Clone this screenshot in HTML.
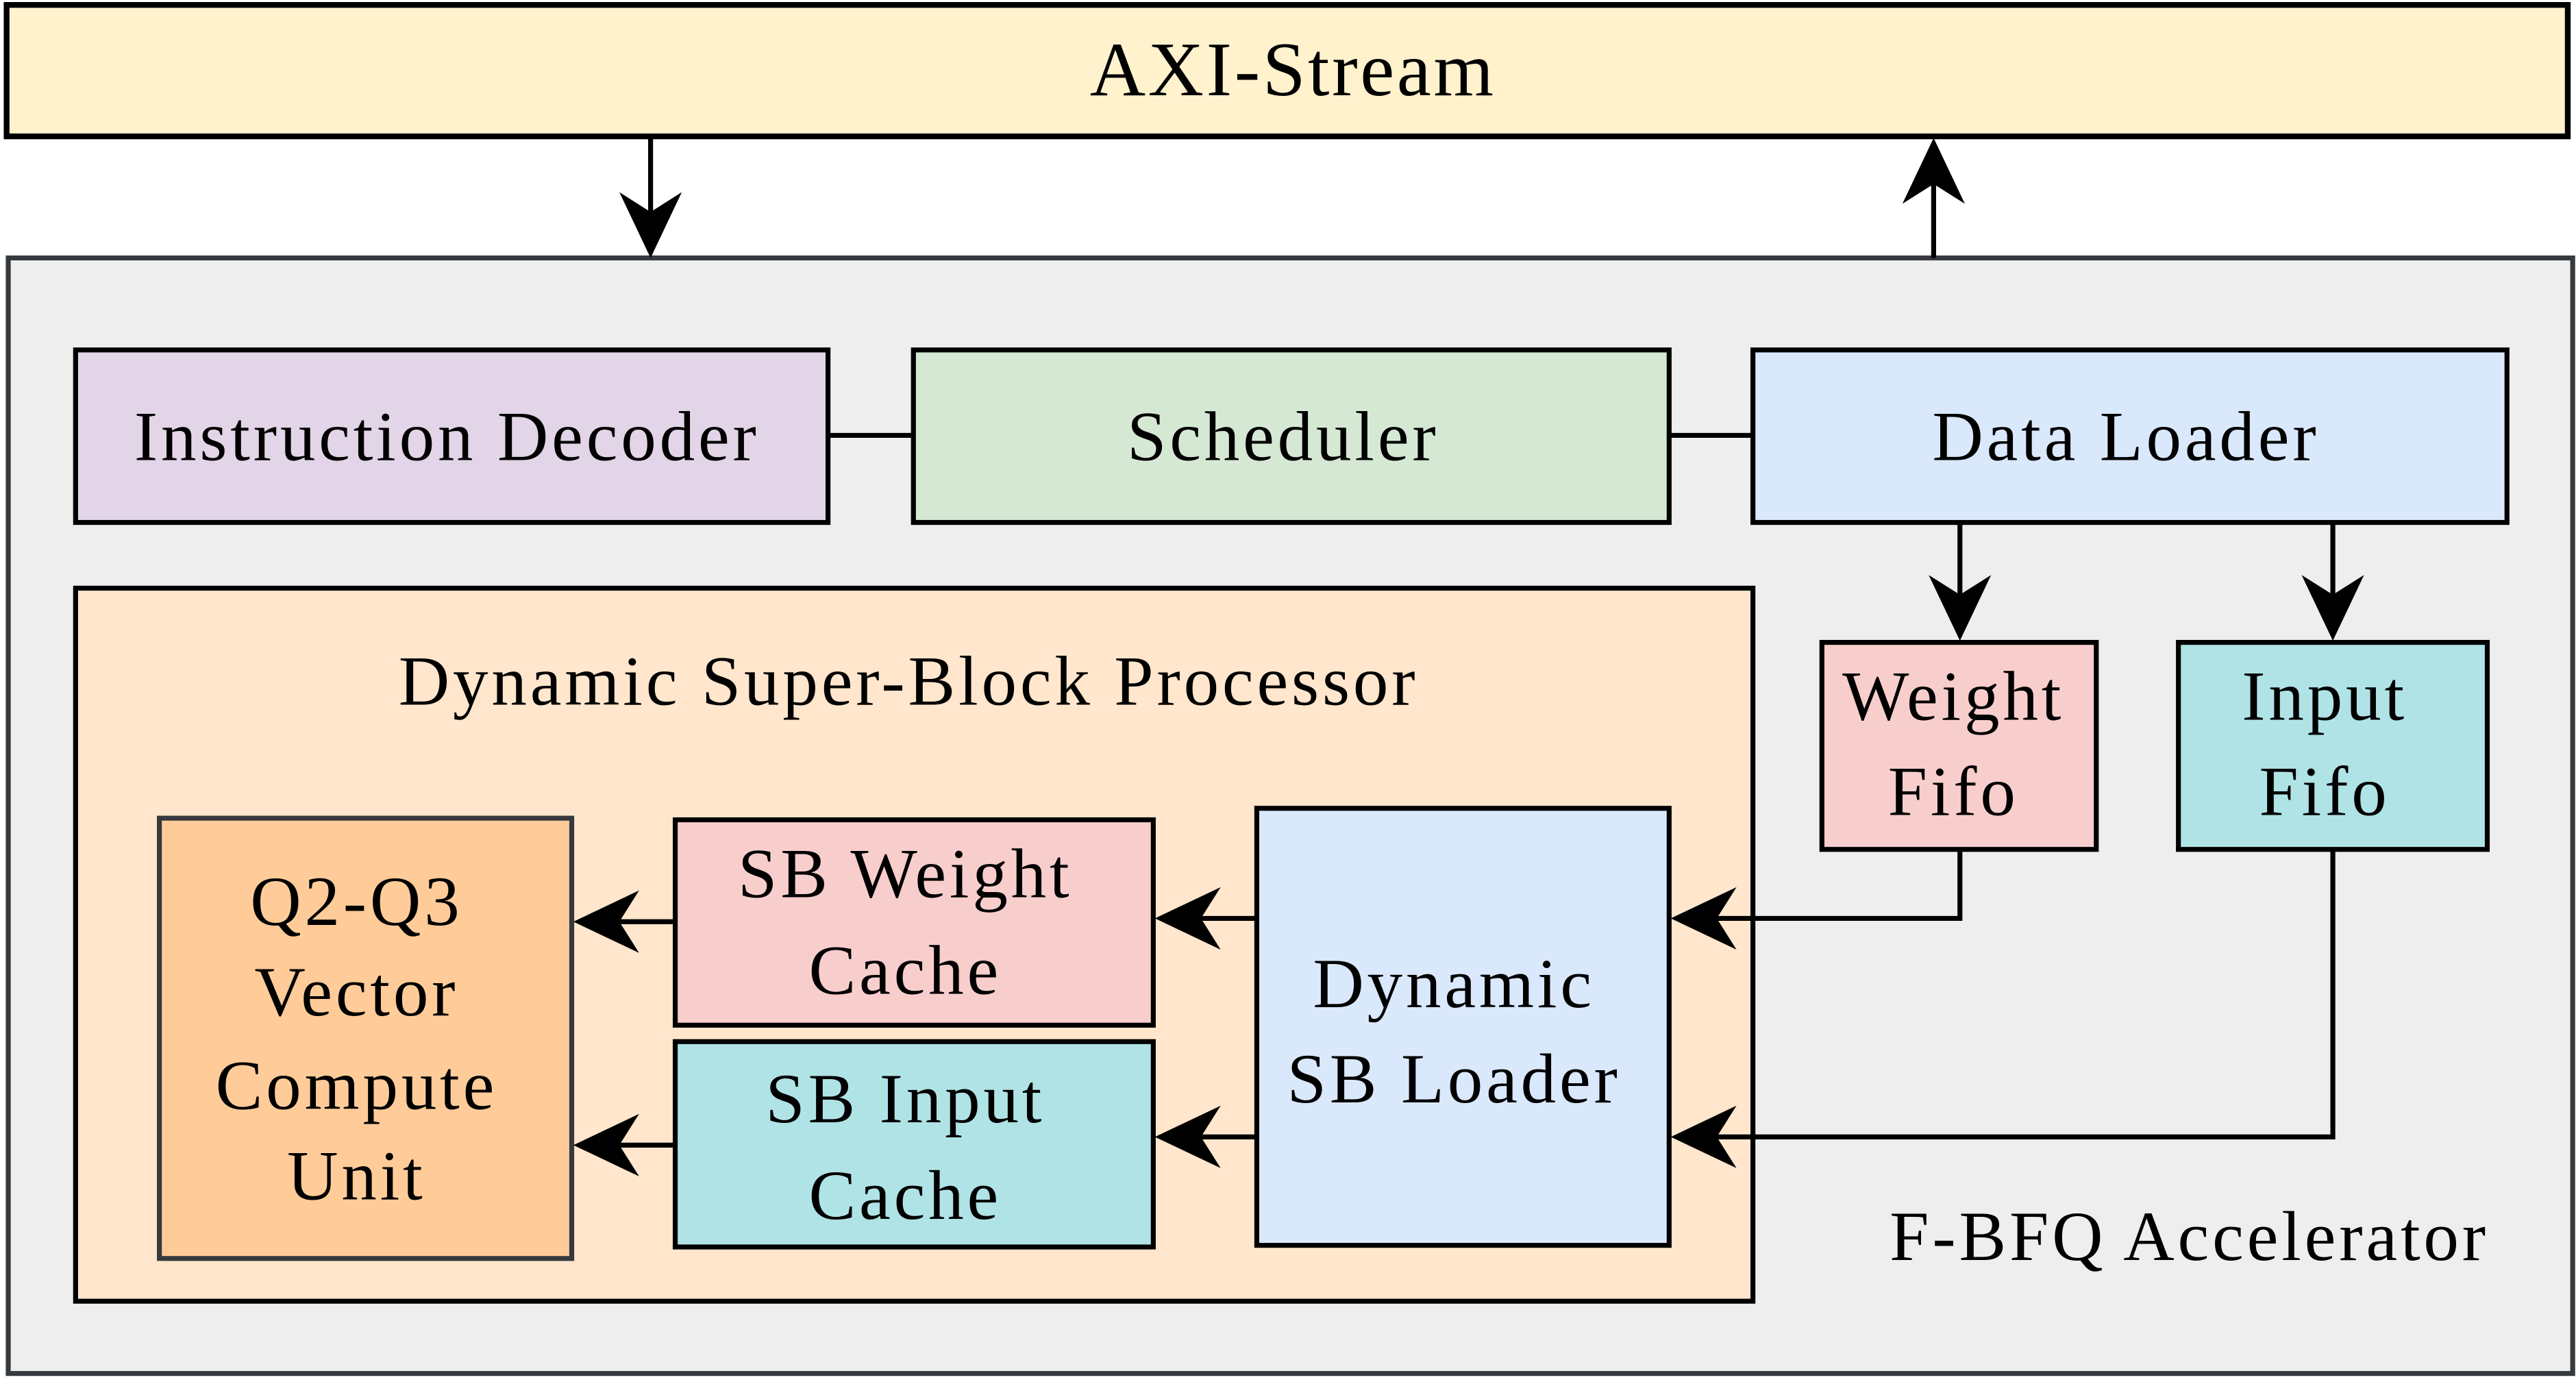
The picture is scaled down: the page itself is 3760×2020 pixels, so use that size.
<!DOCTYPE html>
<html><head><meta charset="utf-8"><style>html,body{margin:0;padding:0;background:#fff}svg{display:block}</style></head><body>
<svg width="3760" height="2020" viewBox="0 0 1568 842.4" xmlns="http://www.w3.org/2000/svg" font-family="'Liberation Serif', serif" text-anchor="middle">
<defs>
<path id="ah" d="M0,0 L-40,-19 L-28,0 L-40,19 Z" fill="#000"/>
</defs>
<rect x="4" y="3" width="1559" height="80" fill="#fff2cc" stroke="#000" stroke-width="3.5"/>
<text x="787" y="58" font-size="47" letter-spacing="1.5">AXI-Stream</text>
<rect x="5" y="157" width="1561" height="679" fill="#eeeeee" stroke="#36393d" stroke-width="3"/>
<g stroke="#000" stroke-width="3">
<rect x="46" y="213" width="458" height="105" fill="#e1d5e7"/>
<rect x="556" y="213" width="460" height="105" fill="#d5e8d4"/>
<rect x="1067" y="213" width="459" height="105" fill="#dae8fc"/>
<rect x="46" y="358" width="1021" height="434" fill="#ffe6cc"/>
<rect x="411" y="499" width="291" height="125" fill="#f8cecc"/>
<rect x="411" y="634" width="291" height="125" fill="#b0e3e6"/>
<rect x="765" y="492" width="251" height="266" fill="#dae8fc"/>
<rect x="1109" y="391" width="167" height="126" fill="#f8cecc"/>
<rect x="1326" y="391" width="188" height="126" fill="#b0e3e6"/>
</g>
<rect x="97" y="498" width="251" height="268" fill="#ffcc99" stroke="#36393d" stroke-width="3"/>
<g stroke="#000" stroke-width="3" fill="none">
<line x1="396" y1="83" x2="396" y2="135"/>
<line x1="1177" y1="157" x2="1177" y2="105"/>
<line x1="504" y1="265" x2="556" y2="265"/>
<line x1="1016" y1="265" x2="1067" y2="265"/>
<line x1="1193" y1="318" x2="1193" y2="370"/>
<line x1="1420" y1="318" x2="1420" y2="370"/>
<polyline points="1193,517 1193,559 1040,559"/>
<polyline points="1420,517 1420,692 1040,692"/>
<line x1="765" y1="559" x2="725" y2="559"/>
<line x1="765" y1="692" x2="725" y2="692"/>
<line x1="411" y1="561" x2="371" y2="561"/>
<line x1="411" y1="697" x2="371" y2="697"/>
</g>
<use href="#ah" transform="translate(396,157) rotate(90)"/>
<use href="#ah" transform="translate(1177,84) rotate(-90)"/>
<use href="#ah" transform="translate(1193,390) rotate(90)"/>
<use href="#ah" transform="translate(1420,390) rotate(90)"/>
<use href="#ah" transform="translate(1017,559) rotate(180)"/>
<use href="#ah" transform="translate(1017,692) rotate(180)"/>
<use href="#ah" transform="translate(703,559) rotate(180)"/>
<use href="#ah" transform="translate(703,692) rotate(180)"/>
<use href="#ah" transform="translate(349,561) rotate(180)"/>
<use href="#ah" transform="translate(349,697) rotate(180)"/>
<g font-size="43" fill="#000" letter-spacing="2">
<text x="272" y="280">Instruction Decoder</text>
<text x="781" y="280">Scheduler</text>
<text x="1294" y="280">Data Loader</text>
<text x="553" y="429">Dynamic Super-Block Processor</text>
<text x="217" y="563">Q2-Q3</text>
<text x="217" y="618">Vector</text>
<text x="217" y="675">Compute</text>
<text x="217" y="730">Unit</text>
<text x="551" y="546">SB Weight</text>
<text x="551" y="605">Cache</text>
<text x="551" y="683">SB Input</text>
<text x="551" y="742">Cache</text>
<text x="885" y="613">Dynamic</text>
<text x="885" y="671">SB Loader</text>
<text x="1189" y="438">Weight</text>
<text x="1189" y="496">Fifo</text>
<text x="1415" y="438">Input</text>
<text x="1415" y="496">Fifo</text>
<text x="1515" y="767" text-anchor="end">F-BFQ Accelerator</text>
</g>
</svg>
</body></html>
